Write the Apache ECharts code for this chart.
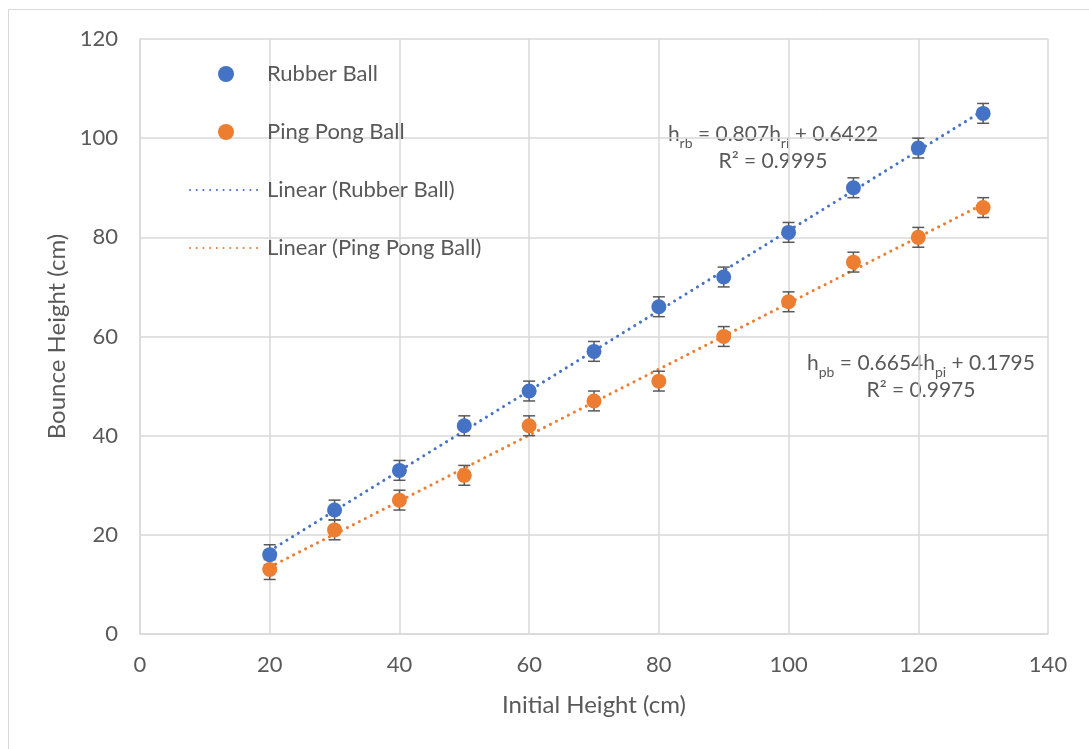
<!DOCTYPE html>
<html><head><meta charset="utf-8">
<script src="https://cdn.jsdelivr.net/npm/echarts@6/dist/echarts.min.js"></script>
<style>html,body{margin:0;padding:0;background:#fff}#c{width:1089px;height:749px}</style>
</head><body><div id="c"></div>
<script>
var initialHeights = [20,30,40,50,60,70,80,90,100,110,120,130];
var rubberBounce = [16,25,33,42,49,57,66,72,81,90,98,105];
var pingPongBounce = [13,21,27,32,42,47,51,60,67,75,80,86];
var errorBar = 2;
var rubberTrend = [[20,16.78],[130,105.55]];
var pingTrend = [[20,13.49],[130,86.68]];
var xTicks = [0,20,40,60,80,100,120,140];
var yTicks = [0,20,40,60,80,100,120];

var FONT = 'Lato, "Open Sans", sans-serif';
var TXT = '#595959';
var BLUE = '#4472C4', ORANGE = '#ED7D31';

function pts(ys){ return initialHeights.map(function(x,i){return [x, ys[i]];}); }
function errSeries(ys){
  return {
    type:'custom', silent:true, z:3,
    data: initialHeights.map(function(x,i){return [x, ys[i]-errorBar, ys[i]+errorBar];}),
    renderItem:function(params, api){
      var lo = api.coord([api.value(0), api.value(1)]);
      var hi = api.coord([api.value(0), api.value(2)]);
      var w = 6;
      var st = {stroke:'#595959', lineWidth:1.5};
      return {type:'group', children:[
        {type:'line', shape:{x1:lo[0],y1:lo[1],x2:hi[0],y2:hi[1]}, style:st},
        {type:'line', shape:{x1:lo[0]-w,y1:lo[1],x2:lo[0]+w,y2:lo[1]}, style:st},
        {type:'line', shape:{x1:hi[0]-w,y1:hi[1],x2:hi[0]+w,y2:hi[1]}, style:st}
      ]};
    }
  };
}
var dotStyle = function(c){ return {color:c, width:3, type:[0.1,6.6], cap:'round'}; };
var eqRich = {
  n:{fontSize:21, fill:TXT, fontFamily:FONT, verticalAlign:'bottom', lineHeight:24, padding:[0,0,5,0]},
  s:{fontSize:14, fill:TXT, fontFamily:FONT, verticalAlign:'bottom', lineHeight:14}
};

var chart = echarts.init(document.getElementById('c'));
chart.setOption({
  animation:false,
  backgroundColor:'#fff',
  textStyle:{fontFamily:FONT},
  grid:{left:140, right:41, top:39, bottom:115},
  xAxis:{type:'value', min:0, max:140, interval:20,
    name:'Initial Height (cm)', nameLocation:'middle', nameGap:59,
    nameTextStyle:{color:TXT, fontSize:24, fontFamily:FONT},
    axisLine:{show:true, lineStyle:{color:'#d9d9d9', width:1.5}},
    axisTick:{show:false},
    axisLabel:{color:TXT, fontSize:22, margin:20, fontFamily:FONT},
    splitLine:{lineStyle:{color:'#d9d9d9', width:1.5}}
  },
  yAxis:{type:'value', min:0, max:120, interval:20,
    name:'Bounce Height (cm)', nameLocation:'middle', nameGap:64, nameRotate:90,
    nameTextStyle:{color:TXT, fontSize:24, fontFamily:FONT},
    axisLine:{show:true, lineStyle:{color:'#d9d9d9', width:1.5}},
    axisTick:{show:false},
    axisLabel:{color:TXT, fontSize:22, margin:22, fontFamily:FONT},
    splitLine:{lineStyle:{color:'#d9d9d9', width:1.5}}
  },
  legend:{
    orient:'vertical', left:184, top:58, itemGap:36,
    itemWidth:72, itemHeight:16,
    textStyle:{color:TXT, fontSize:22, fontFamily:FONT},
    data:[
      {name:'Rubber Ball', icon:'circle'},
      {name:'Ping Pong Ball', icon:'circle'},
      {name:'Linear (Rubber Ball)', itemStyle:{opacity:0}},
      {name:'Linear (Ping Pong Ball)', itemStyle:{opacity:0}}
    ]
  },
  graphic:[
    {type:'rect', shape:{x:8.5, y:9.5, width:1200, height:900}, style:{fill:'none', stroke:'#d9d9d9', lineWidth:1}, silent:true, z:-1},
    {type:'text', x:773, y:150, style:{
      text:'{n|h}{s|rb}{n| = 0.807h}{s|ri}{n| + 0.6422}',
      align:'center', verticalAlign:'bottom', rich:eqRich
    }},
    {type:'text', x:773, y:161, style:{text:'R² = 0.9995', align:'center', verticalAlign:'middle', fontSize:21, fill:TXT, fontFamily:FONT}},
    {type:'text', x:921, y:379, style:{
      text:'{n|h}{s|pb}{n| = 0.6654h}{s|pi}{n| + 0.1795}',
      align:'center', verticalAlign:'bottom', rich:eqRich
    }},
    {type:'text', x:921, y:390, style:{text:'R² = 0.9975', align:'center', verticalAlign:'middle', fontSize:21, fill:TXT, fontFamily:FONT}}
  ],
  series:[
    {name:'Linear (Rubber Ball)', type:'line', data:rubberTrend, symbol:'none', lineStyle:dotStyle(BLUE), itemStyle:{color:BLUE}, z:2},
    {name:'Linear (Ping Pong Ball)', type:'line', data:pingTrend, symbol:'none', lineStyle:dotStyle(ORANGE), itemStyle:{color:ORANGE}, z:2},
    errSeries(rubberBounce),
    errSeries(pingPongBounce),
    {name:'Rubber Ball', type:'scatter', data:pts(rubberBounce), symbolSize:15, itemStyle:{color:BLUE, opacity:1}, z:4},
    {name:'Ping Pong Ball', type:'scatter', data:pts(pingPongBounce), symbolSize:15, itemStyle:{color:ORANGE, opacity:1}, z:4}
  ]
});
</script></body></html>
